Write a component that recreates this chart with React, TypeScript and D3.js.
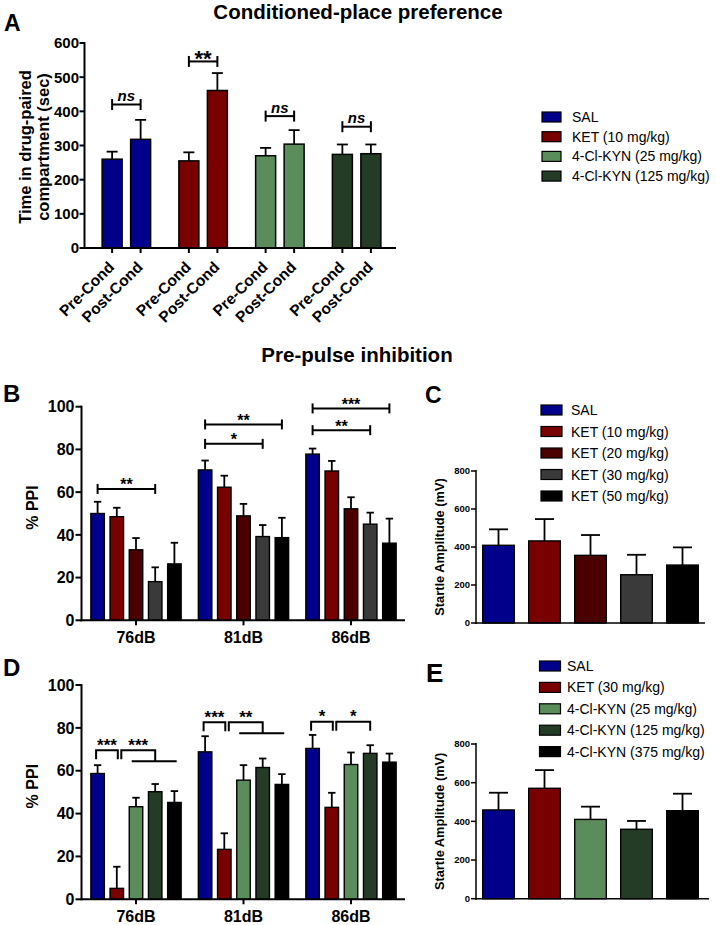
import React from "react";
import * as d3 from "d3";

const FONT = "Arial, 'Liberation Sans', Helvetica, sans-serif";

const COL_SAL = "#00008b";
const COL_KET = "#780000";
const COL_KET20 = "#4a0000";
const COL_KET30 = "#3a3a3a";
const COL_BLACK = "#000000";
const COL_KYN25 = "#5b8c5b";
const COL_KYN125 = "#243c26";

// ---------- Panel A: conditioned-place preference ----------
const cppGroups = ["SAL", "KET (10 mg/kg)", "4-Cl-KYN (25 mg/kg)", "4-Cl-KYN (125 mg/kg)"];
const cppColors = [COL_SAL, COL_KET, COL_KYN25, COL_KYN125];
const cppPhases = ["Pre-Cond", "Post-Cond"];
const cppMean = [[260, 318], [255, 461], [270, 304], [274, 276]];
const cppSem = [[22, 57], [25, 51], [23, 41], [29, 27]];
const cppSigLabel = ["ns", "**", "ns", "ns"];
const cppSigAt = [420, 546, 386, 355];
const cppTicks = [0, 100, 200, 300, 400, 500, 600];

// ---------- Panels B/D: PPI ----------
const dbLevels = ["76dB", "81dB", "86dB"];
const ppiTicks = [0, 20, 40, 60, 80, 100];

const ketGroups = ["SAL", "KET (10 mg/kg)", "KET (20 mg/kg)", "KET (30 mg/kg)", "KET (50 mg/kg)"];
const ketColors = [COL_SAL, COL_KET, COL_KET20, COL_KET30, COL_BLACK];
const ppiKetMean = [
  [50.0, 48.5, 33.0, 18.1, 26.4],
  [70.4, 62.3, 48.9, 39.2, 38.7],
  [77.8, 69.9, 52.2, 45.0, 36.1],
];
const ppiKetSem = [
  [5.5, 4.2, 5.5, 6.7, 9.9],
  [4.4, 5.4, 5.6, 5.4, 9.3],
  [2.6, 4.7, 5.4, 5.4, 11.5],
];
const ppiKetSigLevel = ["76dB", "81dB", "81dB", "86dB", "86dB"];
const ppiKetSigFrom = [0, 0, 0, 0, 0];
const ppiKetSigTo = [3, 4, 3, 4, 3];
const ppiKetSigAt = [61.5, 91.7, 82.6, 99.2, 89.0];
const ppiKetSigLabel = ["**", "**", "*", "***", "**"];

const kynGroups = ["SAL", "KET (30 mg/kg)", "4-Cl-KYN (25 mg/kg)", "4-Cl-KYN (125 mg/kg)", "4-Cl-KYN (375 mg/kg)"];
const kynColors = [COL_SAL, COL_KET, COL_KYN25, COL_KYN125, COL_BLACK];
const ppiKynMean = [
  [58.7, 5.1, 43.2, 50.2, 45.2],
  [68.8, 23.3, 55.6, 61.5, 53.6],
  [70.4, 42.9, 62.9, 68.1, 64.0],
];
const ppiKynSem = [
  [3.9, 10.1, 4.2, 3.6, 5.3],
  [7.3, 7.5, 7.0, 4.2, 4.8],
  [6.3, 6.8, 5.6, 3.8, 4.0],
];
const ppiKynSigAt = [69.6, 82.6, 82.9];
const ppiKynSigLeft = ["***", "***", "*"];
const ppiKynSigRight = ["***", "**", "*"];
const ppiKynSigRightTo = [3, 3, 3];
const ppiKynSigLine = [true, true, false];

// ---------- Panels C/E: startle ----------
const startleTicks = [0, 200, 400, 600, 800];
const startleKet = [409, 432, 356, 254, 305];
const startleKetSem = [84, 115, 107, 105, 93];
const startleKyn = [459, 571, 410, 359, 455];
const startleKynSem = [89, 94, 66, 43, 88];

function ErrorBar({ x, yTop, yEnd, cap }: { x: number; yTop: number; yEnd: number; cap: number }) {
  return (
    <g stroke="#000" strokeWidth={1.8}>
      <line x1={x} x2={x} y1={yTop} y2={yEnd} />
      <line x1={x - cap / 2} x2={x + cap / 2} y1={yEnd} y2={yEnd} />
    </g>
  );
}

function PanelA() {
  const y = d3.scaleLinear().domain([0, 600]).range([248, 43]);
  const g = d3.scaleBand<string>().domain(cppGroups).range([88, 395]);
  const s = d3.scalePoint<string>().domain(cppPhases).range([-14.25, 14.25]);
  const bw = 20;
  const ax = 84.5;
  const xOf = (gi: number, pi: number) => (g(cppGroups[gi]) as number) + g.bandwidth() / 2 + (s(cppPhases[pi]) as number);
  return (
    <g>
      <text x={4} y={31} fontSize={23} fontWeight="bold">A</text>
      <text x={358} y={19} fontSize={20.5} fontWeight="bold" textAnchor="middle">Conditioned-place preference</text>
      <g transform="translate(31,147) rotate(-90)" fontSize={16.5} fontWeight="bold" textAnchor="middle">
        <text x={0} y={0}>Time in drug-paired</text>
        <text x={0} y={18}>compartment (sec)</text>
      </g>
      {cppTicks.map((t) => (
        <g key={t}>
          <line x1={ax - 5} x2={ax} y1={y(t)} y2={y(t)} stroke="#000" strokeWidth={2} />
          <text x={ax - 5.5} y={y(t)} dy="0.36em" fontSize={15} fontWeight="bold" textAnchor="end">{t}</text>
        </g>
      ))}
      {cppGroups.map((gn, gi) =>
        cppPhases.map((p, pi) => {
          const cx = xOf(gi, pi);
          const v = cppMean[gi][pi];
          return (
            <g key={gn + p}>
              <ErrorBar x={cx} yTop={y(v)} yEnd={y(v + cppSem[gi][pi])} cap={bw * 0.55} />
              <rect x={cx - bw / 2} y={y(v)} width={bw} height={y(0) - y(v)} fill={cppColors[gi]} stroke="#000" strokeWidth={1.5} />
              <line x1={cx} x2={cx} y1={y(0)} y2={y(0) + 5} stroke="#000" strokeWidth={2} />
              <text transform={`translate(${cx + 3},${y(0) + 20}) rotate(-45)`} fontSize={15.5} fontWeight="bold" textAnchor="end">{p}</text>
            </g>
          );
        })
      )}
      {cppGroups.map((gn, gi) => {
        const x0 = xOf(gi, 0);
        const x1 = xOf(gi, 1);
        const yy = y(cppSigAt[gi]);
        const isNs = cppSigLabel[gi] === "ns";
        return (
          <g key={"sig" + gn}>
            <g stroke="#000" strokeWidth={2}>
              <line x1={x0} x2={x1} y1={yy} y2={yy} />
              <line x1={x0} x2={x0} y1={yy - 5.5} y2={yy + 5.5} />
              <line x1={x1} x2={x1} y1={yy - 5.5} y2={yy + 5.5} />
            </g>
            {isNs ? (
              <text x={(x0 + x1) / 2} y={yy - 3.5} fontSize={15} fontStyle="italic" fontWeight="bold" textAnchor="middle">ns</text>
            ) : (
              <text x={(x0 + x1) / 2} y={yy + 5} fontSize={22} fontWeight="bold" textAnchor="middle">{cppSigLabel[gi]}</text>
            )}
          </g>
        );
      })}
      <line x1={ax} x2={ax} y1={y(600) - 1} y2={y(0) + 1} stroke="#000" strokeWidth={2} />
      <line x1={ax - 1} x2={396} y1={y(0)} y2={y(0)} stroke="#000" strokeWidth={2} />
      {cppGroups.map((gn, gi) => (
        <g key={"lg" + gn}>
          <rect x={542} y={117 + gi * 19.7 - 5} width={19} height={10} fill={cppColors[gi]} stroke="#000" strokeWidth={1.2} />
          <text x={572} y={117 + gi * 19.7} dy="0.36em" fontSize={14}>{gn}</text>
        </g>
      ))}
    </g>
  );
}

type PPIProps = {
  letter: string;
  letterY: number;
  yBottom: number;
  yTop: number;
  groups: string[];
  colors: string[];
  mean: number[][];
  sem: number[][];
  sig: (xOf: (li: number, gi: number) => number, y: d3.ScaleLinear<number, number>) => React.ReactNode;
};

function PPIPanel({ letter, letterY, yBottom, yTop, groups, colors, mean, sem, sig }: PPIProps) {
  const y = d3.scaleLinear().domain([0, 100]).range([yBottom, yTop]);
  const g = d3.scaleBand<string>().domain(dbLevels).range([82.25, 404.75]);
  const s = d3.scalePoint<string>().domain(groups).range([-38.4, 38.4]);
  const bw = 13.5;
  const ax = 81.5;
  const xOf = (li: number, gi: number) => (g(dbLevels[li]) as number) + g.bandwidth() / 2 + (s(groups[gi]) as number);
  return (
    <g>
      <text x={3} y={letterY} fontSize={24} fontWeight="bold">{letter}</text>
      <text transform={`translate(38,${(yBottom + yTop) / 2 - 6}) rotate(-90)`} fontSize={16} fontWeight="bold" textAnchor="middle">% PPI</text>
      {ppiTicks.map((t) => (
        <g key={t}>
          <line x1={ax - 6} x2={ax} y1={y(t)} y2={y(t)} stroke="#000" strokeWidth={2} />
          <text x={ax - 7} y={y(t)} dy="0.36em" fontSize={16} fontWeight="bold" textAnchor="end">{t}</text>
        </g>
      ))}
      {dbLevels.map((lv, li) => (
        <g key={lv}>
          {groups.map((gn, gi) => {
            const cx = xOf(li, gi);
            const v = mean[li][gi];
            return (
              <g key={gn}>
                <ErrorBar x={cx} yTop={y(v)} yEnd={y(v + sem[li][gi])} cap={bw * 0.55} />
                <rect x={cx - bw / 2} y={y(v)} width={bw} height={y(0) - y(v)} fill={colors[gi]} stroke="#000" strokeWidth={1.4} />
              </g>
            );
          })}
          <line x1={(g(lv) as number) + g.bandwidth() / 2} x2={(g(lv) as number) + g.bandwidth() / 2} y1={y(0)} y2={y(0) + 5} stroke="#000" strokeWidth={2} />
          <text x={(g(lv) as number) + g.bandwidth() / 2} y={y(0) + 23} fontSize={16} fontWeight="bold" textAnchor="middle">{lv}</text>
        </g>
      ))}
      {sig(xOf, y)}
      <line x1={ax} x2={ax} y1={y(100) - 1} y2={y(0) + 1} stroke="#000" strokeWidth={2} />
      <line x1={ax - 1} x2={405} y1={y(0)} y2={y(0)} stroke="#000" strokeWidth={2} />
    </g>
  );
}

type StartleProps = {
  letter: string;
  letterX: number;
  letterY: number;
  letterSize: number;
  yBottom: number;
  yTop: number;
  xEnd: number;
  groups: string[];
  colors: string[];
  values: number[];
  sem: number[];
  legendX: number;
  legendTextX: number;
  legendY: number;
  legendStep: number;
};

function StartlePanel(p: StartleProps) {
  const y = d3.scaleLinear().domain([0, 800]).range([p.yBottom, p.yTop]);
  const x = d3.scaleBand<string>().domain(p.groups).range([475.5, 705.5]).paddingInner(0.313).paddingOuter(0.1565);
  const ax = 476;
  const bw = x.bandwidth();
  return (
    <g>
      <text x={p.letterX} y={p.letterY} fontSize={p.letterSize} fontWeight="bold">{p.letter}</text>
      {p.groups.map((gn, gi) => (
        <g key={"lg" + gn}>
          <rect x={p.legendX} y={p.legendY + gi * p.legendStep - 5} width={21} height={10} fill={p.colors[gi]} stroke="#000" strokeWidth={1.2} />
          <text x={p.legendTextX} y={p.legendY + gi * p.legendStep} dy="0.36em" fontSize={14}>{gn}</text>
        </g>
      ))}
      <text transform={`translate(444,${(p.yBottom + p.yTop) / 2}) rotate(-90)`} fontSize={12.8} fontWeight="bold" textAnchor="middle">Startle Amplitude (mV)</text>
      {startleTicks.map((t) => (
        <g key={t}>
          <line x1={ax - 5} x2={ax} y1={y(t)} y2={y(t)} stroke="#000" strokeWidth={1.5} />
          <text x={ax - 6} y={y(t)} dy="0.36em" fontSize={9.5} fontWeight="bold" textAnchor="end">{t}</text>
        </g>
      ))}
      {p.groups.map((gn, gi) => {
        const x0 = x(gn) as number;
        const cx = x0 + bw / 2;
        const v = p.values[gi];
        return (
          <g key={gn}>
            <ErrorBar x={cx} yTop={y(v)} yEnd={y(v + p.sem[gi])} cap={bw * 0.6} />
            <rect x={x0} y={y(v)} width={bw} height={y(0) - y(v)} fill={p.colors[gi]} stroke="#000" strokeWidth={1.4} />
          </g>
        );
      })}
      <line x1={ax} x2={ax} y1={y(800) - 1} y2={y(0) + 1} stroke="#000" strokeWidth={1.5} />
      <line x1={ax - 1} x2={p.xEnd} y1={y(0)} y2={y(0)} stroke="#000" strokeWidth={1.5} />
    </g>
  );
}

export default function App() {
  const ketSig = (xOf: (li: number, gi: number) => number, y: d3.ScaleLinear<number, number>) =>
    ppiKetSigLabel.map((lab, i) => {
      const li = dbLevels.indexOf(ppiKetSigLevel[i]);
      const x0 = xOf(li, ppiKetSigFrom[i]);
      const x1 = xOf(li, ppiKetSigTo[i]);
      const yy = y(ppiKetSigAt[i]);
      return (
        <g key={"ks" + i}>
          <g stroke="#000" strokeWidth={2}>
            <line x1={x0} x2={x1} y1={yy} y2={yy} />
            <line x1={x0} x2={x0} y1={yy - 5} y2={yy + 5} />
            <line x1={x1} x2={x1} y1={yy - 5} y2={yy + 5} />
          </g>
          <text x={(x0 + x1) / 2} y={yy + 1.5} fontSize={16} fontWeight="bold" textAnchor="middle">{lab}</text>
        </g>
      );
    });

  const kynSig = (xOf: (li: number, gi: number) => number, y: d3.ScaleLinear<number, number>) =>
    dbLevels.map((lv, li) => {
      const yy = y(ppiKynSigAt[li]);
      const leg = 9;
      const l0 = xOf(li, 0) - 1.5;
      const l1 = xOf(li, 1) + 1;
      const r0 = xOf(li, 1) + 4.5;
      const r1 = xOf(li, ppiKynSigRightTo[li]);
      const lineY = yy + leg + 2;
      return (
        <g key={"ys" + lv}>
          <g stroke="#000" strokeWidth={2} fill="none">
            <polyline points={`${l0},${yy + leg} ${l0},${yy} ${l1},${yy} ${l1},${yy + leg}`} />
            <polyline points={`${r0},${yy + leg} ${r0},${yy} ${r1},${yy} ${r1},${ppiKynSigLine[li] ? lineY : yy + leg}`} />
            {ppiKynSigLine[li] && <line x1={xOf(li, 2) - 4.3} x2={xOf(li, 4) + 2.3} y1={lineY} y2={lineY} />}
          </g>
          <text x={(l0 + l1) / 2} y={yy + 0.5} fontSize={17} fontWeight="bold" textAnchor="middle">{ppiKynSigLeft[li]}</text>
          <text x={(r0 + r1) / 2} y={yy + 0.5} fontSize={17} fontWeight="bold" textAnchor="middle">{ppiKynSigRight[li]}</text>
        </g>
      );
    });

  return (
    <svg width={716} height={925} style={{ position: "absolute", left: 0, top: 0 }} fontFamily={FONT}>
      <rect width={716} height={925} fill="#fff" />
      <PanelA />
      <text x={357} y={362} fontSize={20.5} fontWeight="bold" textAnchor="middle">Pre-pulse inhibition</text>
      <PPIPanel letter="B" letterY={402} yBottom={620.3} yTop={406.7} groups={ketGroups} colors={ketColors} mean={ppiKetMean} sem={ppiKetSem} sig={ketSig} />
      <PPIPanel letter="D" letterY={676} yBottom={899.3} yTop={685} groups={kynGroups} colors={kynColors} mean={ppiKynMean} sem={ppiKynSem} sig={kynSig} />
      <StartlePanel letter="C" letterX={425} letterY={403} letterSize={23} yBottom={623} yTop={471} xEnd={705} groups={ketGroups} colors={ketColors} values={startleKet} sem={startleKetSem} legendX={541} legendTextX={571} legendY={410} legendStep={21.5} />
      <StartlePanel letter="E" letterX={426} letterY={682} letterSize={26} yBottom={898.7} yTop={744} xEnd={709} groups={kynGroups} colors={kynColors} values={startleKyn} sem={startleKynSem} legendX={539.5} legendTextX={567} legendY={666} legendStep={21.4} />
    </svg>
  );
}
